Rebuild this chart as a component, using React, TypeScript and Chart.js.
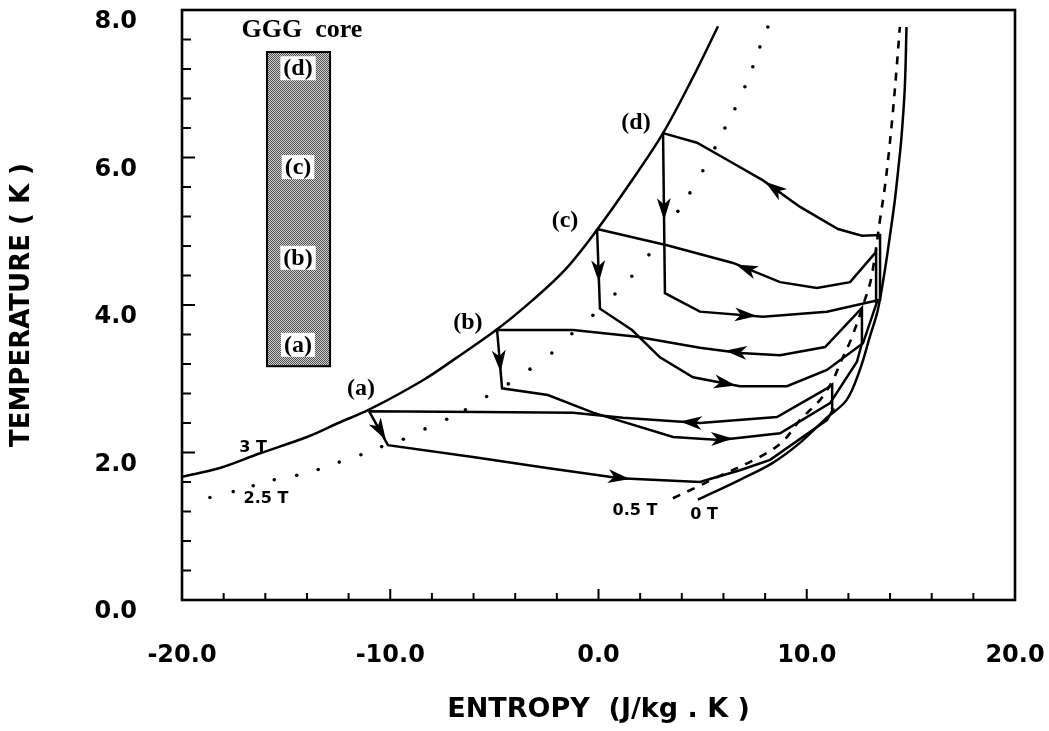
import React, { useEffect, useRef } from 'react';
import { Chart, registerables } from 'chart.js';

Chart.register(...registerables);

// ---- Field curves (entropy S in J/kg.K, temperature T in K) ----
const field3T_S = [-20.0, -18.18, -16.25, -14.0, -12.41, -11.02, -8.43, -6.79, -4.87, -3.19, -1.6, -0.07, 1.51, 3.1, 4.54, 5.74];
const field3T_T = [1.67, 1.79, 1.99, 2.21, 2.41, 2.58, 2.98, 3.29, 3.67, 4.06, 4.48, 5.02, 5.65, 6.33, 7.09, 7.78];

const field25T_S = [-18.66, -17.54, -16.58, -15.57, -14.49, -13.46, -12.45, -11.41, -10.41, -9.37, -8.33, -7.29, -6.39, -5.37, -4.33, -3.29, -2.24, -1.28, -0.27, 0.79, 1.6, 2.42, 3.81, 4.39, 5.01, 5.59, 6.07, 6.55, 7.03, 7.41, 7.75, 8.13];
const field25T_T = [1.39, 1.47, 1.55, 1.63, 1.69, 1.77, 1.87, 1.97, 2.08, 2.18, 2.32, 2.45, 2.58, 2.76, 2.93, 3.13, 3.35, 3.61, 3.86, 4.15, 4.39, 4.68, 5.27, 5.52, 5.82, 6.13, 6.4, 6.66, 6.96, 7.23, 7.5, 7.77];

const field05T_S = [3.57, 4.63, 5.73, 7.75, 8.85, 9.67, 10.63, 11.25, 11.67, 12.15, 12.79, 13.11, 13.54, 13.75, 13.94, 14.13, 14.31, 14.47];
const field05T_T = [1.38, 1.52, 1.67, 1.94, 2.15, 2.44, 2.71, 2.98, 3.25, 3.55, 4.07, 4.38, 5.2, 5.6, 6.06, 6.6, 7.19, 7.77];

const field0T_S = [4.77, 6.79, 8.37, 9.67, 10.95, 11.91, 12.55, 13.03, 13.41, 13.75, 13.99, 14.23, 14.39, 14.55, 14.71, 14.79];
const field0T_T = [1.36, 1.63, 1.86, 2.13, 2.47, 2.71, 3.12, 3.57, 3.93, 4.47, 4.93, 5.42, 5.83, 6.28, 6.96, 7.77];

// ---- Cycles (a)-(d) ----
const loopA_S = [-11.02, -10.11, -6.03, -2.47, 1.03, 4.87, 6.79, 8.24, 10.97, 11.26, 11.22, 10.97, 8.57, 4.87, 1.17, -1.22, -5.69, -11.02];
const loopA_T = [2.56, 2.1, 1.94, 1.79, 1.65, 1.6, 1.76, 1.9, 2.44, 2.58, 2.92, 2.87, 2.48, 2.4, 2.47, 2.54, 2.55, 2.56];

const loopB_S = [-4.87, -4.63, -2.43, -0.26, 3.58, 5.83, 8.72, 11.12, 12.41, 12.65, 12.65, 10.88, 8.72, 6.8, 4.87, 1.85, -1.22, -4.87];
const loopB_T = [3.66, 2.87, 2.78, 2.54, 2.21, 2.17, 2.26, 2.67, 3.23, 3.48, 3.96, 3.43, 3.32, 3.35, 3.42, 3.57, 3.66, 3.66];

const loopC_S = [-0.07, 0.07, 1.61, 2.95, 4.54, 6.79, 9.05, 10.97, 12.7, 13.37, 13.33, 12.08, 10.49, 8.72, 6.46, 3.29, -0.07];
const loopC_T = [5.03, 3.95, 3.66, 3.29, 3.02, 2.9, 2.9, 3.12, 3.48, 4.04, 4.72, 4.31, 4.23, 4.31, 4.57, 4.81, 5.03];

const loopD_S = [3.1, 3.19, 4.87, 7.9, 10.97, 13.52, 13.52, 12.65, 11.5, 9.68, 7.9, 6.17, 4.73, 3.1];
const loopD_T = [6.33, 4.16, 3.91, 3.84, 3.91, 4.07, 4.95, 4.94, 5.03, 5.33, 5.69, 5.97, 6.2, 6.33];

// ---- Arrowheads (tail -> tip, data units) ----
const arrowTail_S = [-11.02, -2.47, 4.87, -4.87, 5.0, 7.5, -0.07, 4.54, 8.72, 3.1, 4.87, 9.68];
const arrowTail_T = [2.56, 1.79, 2.4, 3.66, 2.18, 3.34, 5.03, 3.02, 4.31, 6.33, 3.91, 5.33];
const arrowTip_S = [-10.21, 1.51, 3.91, -4.7, 6.46, 6.07, 0.02, 6.6, 6.6, 3.15, 7.6, 8.0];
const arrowTip_T = [2.17, 1.64, 2.42, 3.09, 2.19, 3.38, 4.31, 2.91, 4.55, 5.15, 3.85, 5.67];

// ---- Text annotations ----
const fieldLabelText = ['3 T', '2.5 T', '0.5 T', '0 T'];
const fieldLabel_S = [-16.59, -15.97, 1.75, 5.07];
const fieldLabel_T = [2.06, 1.37, 1.21, 1.15];

const stateLabelText = ['(a)', '(b)', '(c)', '(d)'];
const stateLabel_S = [-11.4, -6.27, -1.61, 1.8];
const stateLabel_T = [2.87, 3.76, 5.14, 6.47];

const coreTitle = 'GGG  core';
const coreTitle_S = -14.24;
const coreTitle_T = 7.72;
const coreBox_S = [-15.92, -12.89];
const coreBox_T = [3.17, 7.43];
const coreLabel_S = -14.43;
const coreLabel_T = [3.46, 4.64, 5.87, 7.21];

// ---- Axes ----
const xMin = -20, xMax = 20, xStep = 2, xMajor = 10;
const yMin = 0, yMax = 8, yStep = 0.4, yMajor = 2;
const xTitle = 'ENTROPY  (J/kg . K )';
const yTitle = 'TEMPERATURE ( K )';

const SANS = '"DejaVu Sans", "Liberation Sans", Arial, sans-serif';
const SERIF = '"Liberation Serif", "Times New Roman", "DejaVu Serif", serif';

const zip = (s: number[], t: number[]) => s.map((x, i) => ({ x, y: t[i] }));
const isMult = (v: number, m: number) => Math.abs(v / m - Math.round(v / m)) < 1e-6;

const overlayPlugin = {
  id: 'overlay',
  afterDatasetsDraw(chart: any) {
    const { ctx, chartArea: ca, scales } = chart;
    const xs = scales.x, ys = scales.y;
    const px = (v: number) => xs.getPixelForValue(v);
    const py = (v: number) => ys.getPixelForValue(v);
    ctx.save();
    ctx.strokeStyle = '#000';
    ctx.fillStyle = '#000';

    // inward ticks
    ctx.lineWidth = 2;
    xs.ticks.forEach((t: any) => {
      const x = px(t.value);
      const len = isMult(t.value, xMajor) ? 11 : 7;
      ctx.beginPath();
      ctx.moveTo(x, ca.bottom);
      ctx.lineTo(x, ca.bottom - len);
      ctx.stroke();
    });
    ys.ticks.forEach((t: any) => {
      const y = py(t.value);
      const len = isMult(t.value, yMajor) ? 13 : 9;
      ctx.beginPath();
      ctx.moveTo(ca.left, y);
      ctx.lineTo(ca.left + len, y);
      ctx.stroke();
    });

    // frame
    ctx.lineWidth = 2.6;
    ctx.strokeRect(ca.left, ca.top, ca.right - ca.left, ca.bottom - ca.top);

    // arrowheads
    for (let i = 0; i < arrowTip_S.length; i++) {
      const x1 = px(arrowTail_S[i]), y1 = py(arrowTail_T[i]);
      const x2 = px(arrowTip_S[i]), y2 = py(arrowTip_T[i]);
      const a = Math.atan2(y2 - y1, x2 - x1);
      const L = 22, W = 7, N = 16;
      const cos = Math.cos(a), sin = Math.sin(a);
      const bx = x2 - L * cos, by = y2 - L * sin;
      const nx = x2 - N * cos, ny = y2 - N * sin;
      ctx.beginPath();
      ctx.moveTo(x2, y2);
      ctx.lineTo(bx - W * sin, by + W * cos);
      ctx.lineTo(nx, ny);
      ctx.lineTo(bx + W * sin, by - W * cos);
      ctx.closePath();
      ctx.fill();
    }

    // GGG core box
    const bx0 = px(coreBox_S[0]), bx1 = px(coreBox_S[1]);
    const by0 = py(coreBox_T[1]), by1 = py(coreBox_T[0]);
    const pc = document.createElement('canvas');
    pc.width = 2; pc.height = 2;
    const g = pc.getContext('2d')!;
    g.fillStyle = '#d0d0d0';
    g.fillRect(0, 0, 2, 2);
    g.fillStyle = '#505050';
    g.fillRect(0, 0, 1, 1);
    g.fillRect(1, 1, 1, 1);
    const pat = ctx.createPattern(pc, 'repeat');
    ctx.fillStyle = pat;
    ctx.fillRect(bx0, by0, bx1 - bx0, by1 - by0);
    ctx.lineWidth = 2;
    ctx.strokeRect(bx0, by0, bx1 - bx0, by1 - by0);

    ctx.textAlign = 'center';
    ctx.textBaseline = 'middle';
    ctx.font = `bold 24px ${SERIF}`;
    coreLabel_T.forEach((t, i) => {
      const x = px(coreLabel_S), y = py(t);
      const w = ctx.measureText(stateLabelText[i]).width;
      ctx.fillStyle = '#fff';
      ctx.fillRect(x - w / 2 - 3, y - 12, w + 6, 24);
      ctx.fillStyle = '#000';
      ctx.fillText(stateLabelText[i], x, y + 1);
    });

    ctx.font = `bold 26px ${SERIF}`;
    ctx.fillText(coreTitle, px(coreTitle_S), py(coreTitle_T));

    ctx.font = `bold 24px ${SERIF}`;
    stateLabelText.forEach((s, i) => {
      ctx.fillText(s, px(stateLabel_S[i]), py(stateLabel_T[i]));
    });

    ctx.font = `bold 16px ${SANS}`;
    fieldLabelText.forEach((s, i) => {
      ctx.fillText(s, px(fieldLabel_S[i]), py(fieldLabel_T[i]));
    });

    ctx.restore();
  },
};

export default function App() {
  const ref = useRef<HTMLCanvasElement | null>(null);

  useEffect(() => {
    if (!ref.current) return;
    const line = (s: number[], t: number[], extra: any = {}) => ({
      data: zip(s, t),
      showLine: true,
      borderColor: '#000',
      backgroundColor: '#000',
      borderWidth: 2.5,
      pointRadius: 0,
      tension: 0,
      fill: false,
      ...extra,
    });
    const chart = new Chart(ref.current, {
      type: 'scatter',
      data: {
        datasets: [
          line(field3T_S, field3T_T, { label: '3 T', tension: 0.35 }),
          {
            label: '2.5 T',
            data: zip(field25T_S, field25T_T),
            showLine: false,
            pointRadius: 1.8,
            pointBorderWidth: 0,
            pointBackgroundColor: '#000',
            pointBorderColor: '#000',
          },
          line(field05T_S, field05T_T, { label: '0.5 T', tension: 0.35, borderDash: [8, 8], borderWidth: 2.6 }),
          line(field0T_S, field0T_T, { label: '0 T', tension: 0.35 }),
          line(loopA_S, loopA_T, { label: '(a)' }),
          line(loopB_S, loopB_T, { label: '(b)' }),
          line(loopC_S, loopC_T, { label: '(c)' }),
          line(loopD_S, loopD_T, { label: '(d)' }),
        ] as any,
      },
      options: {
        animation: false,
        responsive: false,
        maintainAspectRatio: false,
        events: [],
        layout: { padding: { left: 0, right: 34, top: 10, bottom: 0 } },
        plugins: {
          legend: { display: false },
          tooltip: { enabled: false },
        },
        scales: {
          x: {
            type: 'linear',
            min: xMin,
            max: xMax,
            grid: { display: false, drawTicks: false, tickLength: 0 },
            border: { display: false },
            ticks: {
              stepSize: xStep,
              autoSkip: false,
              maxRotation: 0,
              padding: 41,
              color: '#000',
              font: { family: SANS, size: 24, weight: 'bold' },
              callback: (v: any) => (isMult(Number(v), xMajor) ? Number(v).toFixed(1) : ''),
            },
            title: {
              display: true,
              text: xTitle,
              color: '#000',
              font: { family: SANS, size: 27, weight: 'bold' },
              padding: { top: 0, bottom: 5 },
            },
            afterFit: (s: any) => {
              s.height = 131;
              s.paddingLeft = 0;
              s.paddingRight = 0;
            },
          },
          y: {
            type: 'linear',
            min: yMin,
            max: yMax,
            grid: { display: false, drawTicks: false, tickLength: 0 },
            border: { display: false },
            ticks: {
              stepSize: yStep,
              autoSkip: false,
              padding: 45,
              labelOffset: 12,
              color: '#000',
              font: { family: SANS, size: 24, weight: 'bold' },
              callback: (v: any) => (isMult(Number(v), yMajor) ? Number(v).toFixed(1) : ''),
            },
            title: {
              display: true,
              text: yTitle,
              color: '#000',
              font: { family: SANS, size: 26, weight: 'bold' },
              padding: { top: 7, bottom: 0 },
            },
            afterFit: (s: any) => {
              s.width = 182;
              s.paddingTop = 0;
              s.paddingBottom = 0;
            },
          },
        },
      } as any,
      plugins: [overlayPlugin],
    });
    return () => chart.destroy();
  }, []);

  return (
    <div style={{ position: 'absolute', left: 0, top: 0, width: 1049, height: 731, background: '#fff' }}>
      <canvas ref={ref} width={1049} height={731} style={{ width: 1049, height: 731, display: 'block' }} />
    </div>
  );
}
